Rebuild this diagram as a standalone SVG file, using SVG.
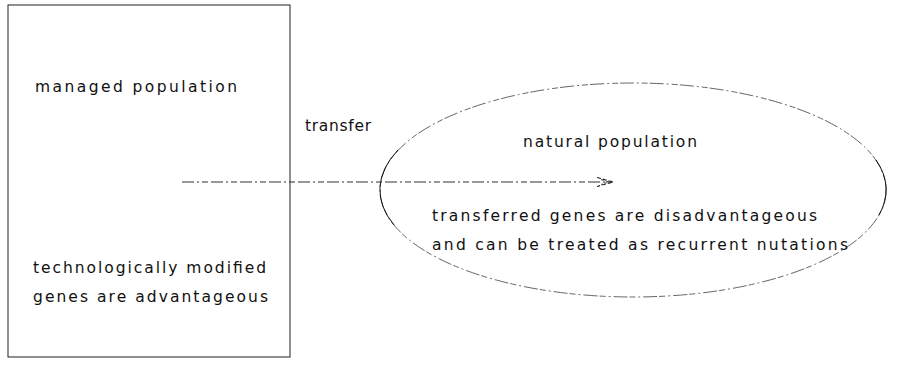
<svg xmlns="http://www.w3.org/2000/svg" width="902" height="365" viewBox="0 0 902 365">
<style>
text{font-family:"DejaVu Sans","Liberation Sans",Arial,sans-serif;font-size:15.5px;fill:#111;}
.box{fill:none;stroke:#333;stroke-width:1.1;}
.ell{fill:none;stroke:#555;stroke-width:0.9;stroke-dasharray:14 3 2 3 6 2;}
.arc{fill:none;stroke:#111;stroke-width:1;}
.conn{fill:none;stroke:#333;stroke-width:1.1;stroke-dasharray:12 3 2 3 6 3;}
</style>
<defs>
<marker id="open" viewBox="0 0 16 10" refX="16" refY="5" markerWidth="16" markerHeight="10" markerUnits="userSpaceOnUse" orient="auto">
<polyline points="0,0.5 16,5 0,9.5" fill="none" stroke="#222" stroke-width="1.1" stroke-dasharray="4 2"/>
<polyline points="4,2.5 12,5 4,7.5" fill="none" stroke="#222" stroke-width="0.8" stroke-dasharray="3 2"/>
</marker>
</defs>
<g id="managed">
<rect class="box" x="8" y="5" width="282" height="352"/>
<text x="35" y="92" textLength="202" lengthAdjust="spacing">managed population</text>
<text x="33" y="273" textLength="233" lengthAdjust="spacing">technologically modified</text>
<text x="33" y="302" textLength="235" lengthAdjust="spacing">genes are advantageous</text>
</g>
<g id="natural">
<ellipse class="ell" cx="633" cy="190" rx="253" ry="107"/>
<path class="arc" d="M398,150 A253,107 0 0 0 394,225"/>
<path class="arc" d="M876,160 A253,107 0 0 1 879,215"/>
<text x="523" y="147" textLength="174" lengthAdjust="spacing">natural population</text>
<text x="432" y="221" textLength="385" lengthAdjust="spacing">transferred genes are disadvantageous</text>
<text x="432" y="250" textLength="416" lengthAdjust="spacing">and can be treated as recurrent nutations</text>
</g>
<g id="connectors">
<line class="conn" x1="182" y1="182" x2="613" y2="182" marker-end="url(#open)"/>
<text x="305" y="131" textLength="66" lengthAdjust="spacing">transfer</text>
</g>
</svg>
